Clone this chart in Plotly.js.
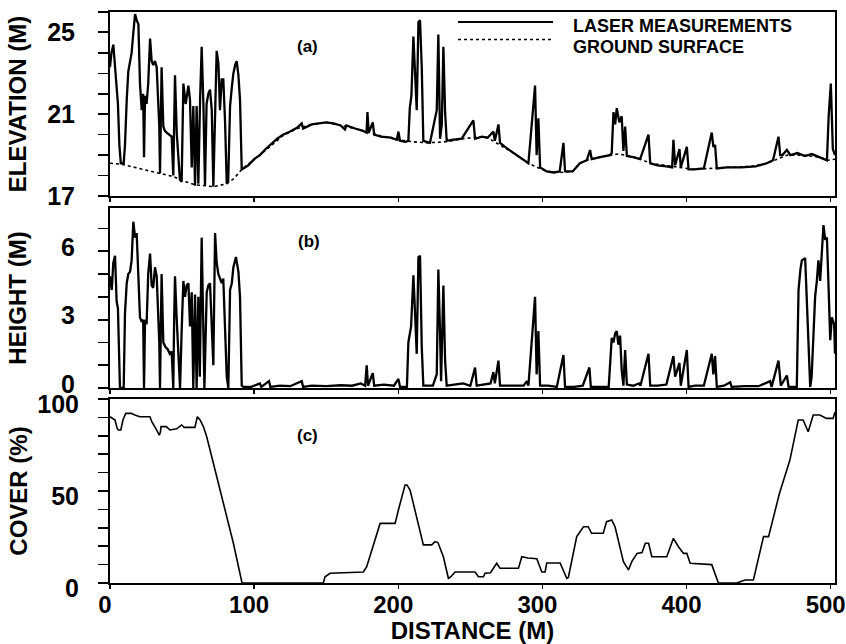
<!DOCTYPE html>
<html><head><meta charset="utf-8">
<script src="https://cdn.plot.ly/plotly-3.0.1.min.js"></script>
<style>html,body{margin:0;padding:0;background:#fff}#chart{width:846px;height:644px}</style>
</head><body><div id="chart"></div>
<script>
// ---- (a) elevation: laser measurements ----
const laserDist = [0,1,2.3,3.2,4.6,5.5,6.5,7.5,9.5,10.4,11.6,12.7,14,15,16.2,17.4,18.5,19.7,20.8,21.5,22,23,23.6,24.3,25.4,26.5,27.8,28.9,30,31.2,32.4,33.5,34.2,34.7,35.2,35.8,37,38,39.3,41,42.8,43.9,44.5,45.1,46.3,47.5,48.5,49.7,50.9,52.5,54.4,55.5,56.7,57.8,59,60.1,61.3,62.5,63.6,64.8,65.9,67,68.2,69.4,70.6,71.7,73,74,75.2,76.3,77.5,78.6,79.8,81,82,83.3,84.5,85.6,86.8,87.9,89.1,90.2,91.4,
92.5,96,100,104,108,112,116,120,125,130,133,134,140,145,150,155,160,163,164,170,175,178,178.6,179.5,182.3,183.3,188,195,199,200.1,201.2,205,207,208,209.1,210.5,211.7,212.8,214.0,215.1,216.3,217.4,222,226.7,227.8,229.0,230.2,231.3,232.5,233.6,238,244,252.1,253.3,258,262,266.0,267,269.5,270.6,275,280,285,289.2,290.3,294.9,296,297.2,298.4,303,308,312,314.6,315.7,321,326,330.8,333.1,334.2,340,346.9,348.1,349.3,350.5,351.6,353.4,355.0,356.2,357.4,358.6,363,367.8,373.6,374.8,380,386,390,390.9,392.1,395.1,396.0,400.2,401.4,405,412,417.5,418.6,419.8,421.0,428,438,448,455.7,460,463.8,465,466.5,469.6,472,477,482,487,492,497.4,498.6,500.1,501.5,503];
const laserElev = [23.3,24.0,24.4,23.5,22.0,21.5,19.5,18.6,18.6,19.5,21.7,23.1,23.6,24.0,25.0,25.9,25.6,25.4,22.5,21.4,21.2,22.0,18.9,21.9,21.5,22.5,24.7,23.6,23.4,23.6,23.3,21.5,20.4,18.1,21.0,23.3,20.4,20.2,20.1,20.0,19.9,18.0,21.0,22.9,20.1,19.0,17.8,17.7,22.5,21.5,22.4,21.7,18.4,21.4,17.5,21.4,17.6,21.7,24.3,21.5,17.5,21.5,22.0,22.2,21.2,17.45,21.0,24.1,23.5,21.2,22.7,22.7,20.7,17.6,17.7,21.4,22.3,23.0,23.4,23.6,22.9,21.7,18.3,
18.35,18.5,18.8,19.0,19.3,19.55,19.8,20.0,20.15,20.35,20.55,20.3,20.5,20.55,20.6,20.55,20.45,20.25,20.45,20.3,20.2,20.1,21.1,20.1,20.6,20.0,19.9,19.85,19.75,20.15,19.7,19.65,19.7,21.3,21.9,24.8,22.6,21.2,25.5,25.6,23.3,19.7,19.6,21.2,24.9,19.8,20.5,24.3,21.1,19.7,19.75,19.8,20.7,19.8,19.9,19.85,20.15,19.7,20.5,19.6,19.35,19.1,18.85,18.65,18.6,22.4,19.0,20.8,18.4,18.2,18.15,18.2,19.6,18.2,18.2,18.6,18.75,19.25,18.8,18.9,19.0,19.1,21.1,20.5,21.3,20.6,20.9,19.2,20.4,18.95,18.9,18.8,20.0,18.6,18.5,18.45,18.4,19.75,18.5,19.3,18.4,19.4,18.3,18.3,18.35,20.1,19.4,19.5,18.35,18.4,18.4,18.45,18.6,18.75,19.9,19.0,19.0,19.25,19.0,19.1,18.95,19.05,18.9,18.75,20.9,22.5,19.3,19.0];

// ---- (a) elevation: ground surface ----
const groundDist = [0,8,20,35,44,50,59,66,72,81,86,91.4,95,100,110,120,130,140,150,160,170,180,190,200,210,220,233,245,257,262,268,280,290,303,312,321,326,331,340,347,352,358,368,375,393,405,428,445,456,463,470,480,492,498,503];
const groundElev = [18.6,18.55,18.35,18.1,17.95,17.75,17.55,17.5,17.45,17.6,17.85,18.3,18.5,18.8,19.35,19.95,20.3,20.5,20.6,20.45,20.3,20.1,19.9,19.75,19.65,19.6,19.65,19.8,19.9,19.85,19.6,19.1,18.6,18.2,18.15,18.2,18.6,18.75,18.9,19.0,19.05,19.0,18.8,18.6,18.4,18.3,18.4,18.45,18.6,18.8,19.0,19.0,18.9,18.75,18.8];

// ---- (b) vegetation height ----
const heightDist = [0,1.2,2.3,3.5,4.6,5.5,6.5,6.9,9.5,10.4,11.6,12.7,13.9,15,16.2,17.4,18.5,19.7,20.8,22,23,23.6,24.3,25.4,26.5,27.8,28.9,30,31.2,32.4,33.5,34.2,34.7,35.2,35.8,37,38.5,40,41.5,42.8,43.9,44.5,45.1,46.3,47.5,48.6,49.7,50.9,52,53.2,54.4,55.5,56.7,57.8,59,60.1,61.3,62.3,63.6,64.8,65.5,67.1,68.2,69.4,70.6,71.7,72.9,74,75.2,76.3,77.5,78.6,79.8,81,82.1,83.3,84.5,85.6,87.4,88.5,89.1,90.2,91.4,
92.5,98,104,105,110.3,111.3,118,125,133.0,134,140,150,160,168,174,177,178.1,179,182.3,183.3,190,197,200.1,201.2,206,207.0,208.9,210.5,211.7,212.8,214.0,215.1,216.3,217.4,221,224,226.7,227.8,229.0,229.7,231.3,232.5,233.6,238,245,250,253.3,254.4,260,264,266.0,267,269.5,270.6,276,282,287,289.2,290.3,294.9,296,297.2,298.4,304,310,314.6,315.7,322,328,332.6,333.6,340,346,348.1,349.3,350.5,351.6,352.7,353.9,355,356.2,357.4,358.6,363,367,368,373.6,374.8,380,386,390.9,392.1,395.1,396.0,400.2,401.4,406,412,417.5,418.6,419.8,421.0,426,430.3,431.3,440,450,458,459,463.8,465.4,469.6,470.8,476.5,477.7,479,480.0,482.3,483.5,484.6,485.8,486.8,488.1,489.2,490.4,491.5,492.7,493.9,495.0,496.2,497.4,498.6,499.7,500.8,502.4,503];
const heightVal = [4.9,4.3,5.5,5.8,3.8,3.5,1.0,0.0,0.0,3.3,4.6,5.0,5.1,5.6,7.3,6.6,6.8,4.5,3.1,2.9,3.0,0.0,3.0,2.8,5.0,5.9,4.5,4.4,5.3,4.9,3.0,2.0,0.0,3.0,5.0,2.0,1.8,1.7,1.5,1.6,0.0,3.0,4.9,3.0,1.5,0.0,2.5,4.7,4.0,4.5,4.6,2.7,4.2,0.0,4.1,0.0,4.0,0.5,6.6,2.7,0.0,4.2,4.5,4.6,2.2,1.0,6.8,5.5,5.0,4.8,4.6,4.8,2.5,0.5,0.0,4.3,4.6,5.3,5.75,5.2,5.1,4.0,0.1,
0.05,0.05,0.2,0.05,0.3,0.05,0.1,0.08,0.3,0.05,0.1,0.08,0.12,0.1,0.2,0.1,1.0,0.1,0.65,0.1,0.15,0.1,0.4,0.05,0.05,2.0,2.7,4.95,3.2,1.5,5.75,5.8,1.8,0.1,0.1,0.1,0.6,5.2,2.4,0.3,4.5,1.2,0.1,0.15,0.2,0.1,0.9,0.1,0.15,0.2,0.7,0.2,1.2,0.1,0.1,0.1,0.1,0.3,0.1,4.0,0.6,2.5,0.1,0.1,0.05,1.45,0.05,0.05,0.1,0.9,0.05,0.05,0.05,2.2,2.0,2.4,2.5,1.9,2.3,0.8,0.1,1.67,0.15,0.1,0.2,0.1,1.5,0.1,0.1,0.15,1.4,0.5,1.1,0.1,1.67,0.05,0.1,0.1,1.5,0.6,1.4,0.05,0.1,0.25,0.05,0.08,0.08,0.3,0.05,1.2,0.1,0.55,0.05,0.05,4.3,5.2,5.6,5.7,3.7,2.1,0.05,0.5,2.85,4.0,4.7,5.6,4.7,6.05,7.15,6.5,6.6,4.3,2.1,3.1,2.8,1.5];

// ---- (c) cover ----
const coverDist = [0,3.5,5.0,5.8,7.5,9.0,10.9,14.8,17.2,20.7,27.7,29.0,32.3,34.2,35.0,35.4,39.0,41.6,46.3,49.7,51.5,58.9,60.6,62.5,64.8,67.1,75.2,83.3,85.6,91.6,148.0,149.2,152.7,175.8,178.1,187.4,197.8,200.1,204.7,206,208.2,217.4,223.2,225.5,227.5,231.3,234.8,236.5,239.4,253.3,255.6,259.1,260.2,264,268.3,270.6,283.4,285.7,290,296.1,299.6,301.9,303.0,312.3,316.9,318,323.8,328.5,331.8,334.1,342.2,344.5,348.1,350.4,356.2,359.7,362.0,365.7,369.1,371.4,373.7,375.9,386.3,390.9,394.4,397.9,400.2,402.5,417.5,422.1,434.8,440.6,446.4,453.4,456.9,464.5,471.7,477.5,480.9,484.4,487.9,492.5,497.1,501.7,503];
const coverVal = [90.4,88.6,84,83.2,83.2,88.6,92.2,92.2,91.3,90.4,90.4,87.7,83.2,80.4,82,85.0,85.0,83.2,83.8,85.9,84.6,84.6,90.4,88.6,85.0,79.5,54.2,28.8,21.6,0,0,3.4,5.3,6.0,8.9,32.4,32.4,39.7,53.3,53.3,50.5,20.7,20.7,22.5,22.0,14.3,2.5,3.4,6.0,6.0,3.4,3.4,5.3,5.6,10.7,8.0,8.0,14.3,13.6,13.2,6.0,6.0,10.9,10.9,2.5,3.0,25.2,30.6,30.6,27.0,27.0,33.3,34.2,30.6,11.6,7.1,11.6,16.1,16.6,21.6,21.6,14.3,14.3,24.3,19.7,16.1,16.1,10.7,10.0,0,0,1.6,1.6,25.2,25.2,48.8,66.8,88.6,88.6,82.2,91.3,91.3,89.5,89.5,93];

// ---- axis ticks & labels ----
const distTicks = [0,100,200,300,400,500];
const distTickText = ['0','100','200','300','400','500'];
const panelLabels = ['(a)','(b)','(c)'];
const legendNames = ['LASER MEASUREMENTS','GROUND SURFACE'];

const F = 'Liberation Sans, Arial, Helvetica, sans-serif';
const tickFont = {family:F, size:25, color:'#000', weight:'bold'};
const xTickFont = {family:F, size:24, color:'#000', weight:'bold'};
const titleFont = {family:F, size:24, color:'#000', weight:'bold'};
const box = {showline:true, linecolor:'#000', linewidth:2, mirror:true, showgrid:false, zeroline:false, fixedrange:true};
const xBase = Object.assign({}, box, {range:[0,503], tickmode:'array', tickvals:distTicks, ticks:'outside', ticklen:4, tickwidth:1.5, tickcolor:'#000'});
function minorTicks(d){ return {dtick:d, ticks:'outside', ticklen:10, tickwidth:1.5, tickcolor:'#000', showgrid:false}; }
function yAx(extra){
  return Object.assign({}, box, {ticks:'outside', ticklen:10, tickwidth:2, tickcolor:'#000', tickfont:tickFont, ticklabelstandoff:18}, extra);
}

const traces = [
  {x:groundDist, y:groundElev, xaxis:'x', yaxis:'y', mode:'lines', line:{color:'#000', width:1.6, dash:'dot'}, name:legendNames[1], hoverinfo:'skip'},
  {x:laserDist, y:laserElev, xaxis:'x', yaxis:'y', mode:'lines', line:{color:'#000', width:2.3}, name:legendNames[0], hoverinfo:'skip'},
  {x:heightDist, y:heightVal, xaxis:'x2', yaxis:'y2', mode:'lines', line:{color:'#000', width:2.3}, hoverinfo:'skip'},
  {x:coverDist, y:coverVal, xaxis:'x3', yaxis:'y3', mode:'lines', line:{color:'#000', width:1.6}, hoverinfo:'skip'}
];

const legFont = {family:F, size:18, color:'#000', weight:'bold'};
const panelFont = {family:F, size:17, color:'#000', weight:'bold'};

const layout = {
  width:846, height:644, margin:{l:110, r:11, t:12, b:61},
  paper_bgcolor:'#fff', plot_bgcolor:'#fff', showlegend:false,
  xaxis: Object.assign({}, xBase, {anchor:'y', showticklabels:false}),
  xaxis2: Object.assign({}, xBase, {anchor:'y2', matches:'x', showticklabels:false}),
  xaxis3: Object.assign({}, xBase, {anchor:'y3', matches:'x', showticklabels:true, ticktext:distTickText, tickfont:xTickFont,
           ticklabeloverflow:'allow', ticklabelstandoff:-5, ticklabelshift:-5,
           title:{text:'DISTANCE (M)', font:titleFont, standoff:0}}),
  yaxis: yAx({domain:[0.6778,1], range:[17,26], tick0:17, dtick:4, minor:minorTicks(1),
           title:{text:'ELEVATION (M)', font:titleFont, standoff:14}}),
  yaxis2: yAx({domain:[0.3415,0.6567], range:[0,7.9], tick0:0, dtick:3, minor:minorTicks(1), ticklabelshift:-4,
           title:{text:'HEIGHT (M)', font:titleFont, standoff:28}}),
  yaxis3: yAx({domain:[0,0.3222], range:[0,100], tick0:0, dtick:50, minor:minorTicks(10), ticklabelshift:5, ticklabelstandoff:14,
           title:{text:'COVER (%)', font:titleFont, standoff:3}}),
  shapes: [
    {type:'line', xref:'paper', yref:'paper', x0:0.48, x1:0.611, y0:0.9825, y1:0.9825, line:{color:'#000', width:1.8}},
    {type:'line', xref:'paper', yref:'paper', x0:0.48, x1:0.611, y0:0.952, y1:0.952, line:{color:'#000', width:1.5, dash:'dot'}}
  ],
  annotations: [
    {xref:'paper', yref:'paper', x:0.637, y:0.9755, xanchor:'left', yanchor:'middle', showarrow:false, borderpad:0, text:legendNames[0], font:legFont},
    {xref:'paper', yref:'paper', x:0.637, y:0.9388, xanchor:'left', yanchor:'middle', showarrow:false, borderpad:0, text:legendNames[1], font:legFont},
    {xref:'x', yref:'y', x:136.7, y:24.3, showarrow:false, text:panelLabels[0], font:panelFont},
    {xref:'x2', yref:'y2', x:138.4, y:6.45, showarrow:false, text:panelLabels[1], font:panelFont},
    {xref:'x3', yref:'y3', x:136.7, y:80.2, showarrow:false, text:panelLabels[2], font:panelFont}
  ]
};

Plotly.newPlot('chart', traces, layout, {staticPlot:true, displayModeBar:false});
</script>
</body></html>
